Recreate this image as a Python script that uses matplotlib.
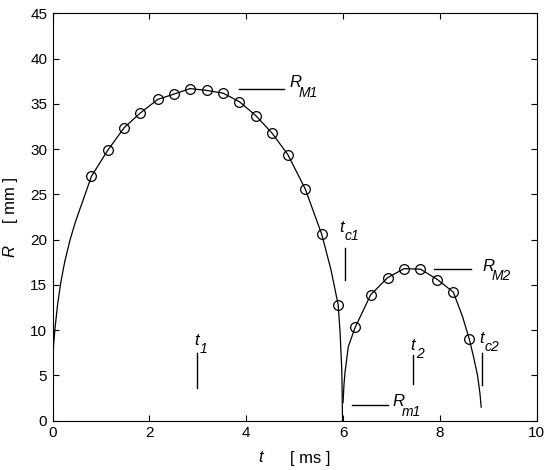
import matplotlib
matplotlib.use("Agg")
import matplotlib.pyplot as plt

plt.rcParams['font.family'] = ['Liberation Sans', 'DejaVu Sans']

# ---- data ----
curve1_t = [0.0, 0.02, 0.05, 0.10, 0.165, 0.25, 0.36, 0.46, 0.55, 0.63, 0.80, 1.14, 1.48,
            1.81, 2.17, 2.51, 2.84, 3.18, 3.52, 3.86, 4.20, 4.53, 4.86, 5.22, 5.56,
            5.75, 5.90, 5.94, 5.975, 5.99]
curve1_R = [6.6, 8.5, 10.3, 12.8, 15.2, 17.6, 20.0, 21.8, 23.2, 24.4, 27.0, 29.9, 32.4,
            34.0, 35.5, 36.1, 36.7, 36.5, 36.2, 35.25, 33.7, 31.8, 29.4, 25.6, 20.6,
            16.7, 12.8, 9.7, 5.5, 0.0]
curve2_t = [6.0, 6.02, 6.04, 6.11, 6.25, 6.57, 6.92, 7.26, 7.60, 7.95, 8.28, 8.47,
            8.61, 8.70, 8.78, 8.83, 8.855]
curve2_R = [2.0, 4.0, 5.3, 8.2, 10.3, 13.9, 15.8, 16.8, 16.75, 15.6, 14.2, 11.5,
            9.0, 7.0, 5.0, 3.0, 1.5]

circ1_t = [0.80, 1.14, 1.48, 1.81, 2.17, 2.51, 2.84, 3.18, 3.52, 3.86, 4.20, 4.53,
           4.86, 5.22, 5.56, 5.90]
circ1_R = [27.0, 29.9, 32.4, 34.0, 35.5, 36.1, 36.7, 36.5, 36.2, 35.25, 33.7, 31.8,
           29.4, 25.6, 20.6, 12.8]
circ2_t = [6.25, 6.57, 6.92, 7.26, 7.60, 7.95, 8.28, 8.61]
circ2_R = [10.3, 13.9, 15.8, 16.8, 16.75, 15.6, 14.2, 9.0]

# vertical marker lines: (t, R_low, R_high)
vmarks_t = [2.98, 7.45, 6.04, 8.87]
vmarks_lo = [3.6, 4.1, 15.5, 3.95]
vmarks_hi = [7.45, 7.3, 19.1, 7.5]
# horizontal marker lines: (t_start, t_end, R)
hmarks_t0 = [3.84, 7.87, 6.19]
hmarks_t1 = [4.79, 8.65, 6.93]
hmarks_R = [36.7, 16.76, 1.77]

# labels: main letter, subscript, anchor (t, R)
lab_main = ['R', 'R', 'R', 't', 't', 't', 't']
lab_sub = ['M1', 'M2', 'm1', '1', '2', 'c1', 'c2']
lab_t = [4.89, 8.89, 7.03, 2.93, 7.39, 5.92, 8.82]
lab_R = [36.87, 16.57, 1.57, 8.36, 7.8, 20.9, 8.6]

xticks = [0, 2, 4, 6, 8, 10]
yticks = [0, 5, 10, 15, 20, 25, 30, 35, 40, 45]

# ---- figure ----
fig = plt.figure(figsize=(5.5, 4.7), dpi=100)
ax = fig.add_axes([0.0958, 0.1049, 0.8798, 0.8664])

ax.plot(curve1_t, curve1_R, color='black', lw=0.9)
ax.plot(curve2_t, curve2_R, color='black', lw=0.9)
ax.plot(circ1_t, circ1_R, linestyle='none', marker='o', ms=7, mfc='none',
        mec='black', mew=0.9)
ax.plot(circ2_t, circ2_R, linestyle='none', marker='o', ms=7, mfc='none',
        mec='black', mew=0.9)

for t, lo, hi in zip(vmarks_t, vmarks_lo, vmarks_hi):
    ax.plot([t, t], [lo, hi], color='black', lw=1.0)
for t0, t1, r in zip(hmarks_t0, hmarks_t1, hmarks_R):
    ax.plot([t0, t1], [r, r], color='black', lw=1.0)

for m, s, t, r in zip(lab_main, lab_sub, lab_t, lab_R):
    ax.text(t, r, m, fontsize=12, style='italic', ha='left', va='baseline')
    dx = 6.5 if m == 'R' else 4.0
    dy = -7.0 if m == 'R' else -6.0
    ax.annotate(s, xy=(t, r), xytext=(dx, dy), textcoords='offset points',
                fontsize=10, style='italic', ha='left', va='baseline')

ax.set_xlim(0, 10)
ax.set_ylim(0, 45)
ax.set_xticks(xticks)
ax.set_yticks(yticks)
ax.tick_params(direction='in', length=4, width=0.8, top=True, right=True,
               labelsize=11, pad=4)
for sp in ax.spines.values():
    sp.set_linewidth(0.8)

fig.text(261 / 550, 1 - 458 / 470, 't', fontsize=12, style='italic',
         ha='center', va='center')
fig.text(310 / 550, 1 - 458 / 470, '[ ms ]', fontsize=12, ha='center', va='center')
fig.text(10 / 550, 1 - 251 / 470, 'R', fontsize=12, style='italic',
         ha='center', va='center', rotation=90)
fig.text(10 / 550, 1 - 200 / 470, '[ mm ]', fontsize=12, ha='center', va='center',
         rotation=90)

fig.savefig('out.png', dpi=100)
